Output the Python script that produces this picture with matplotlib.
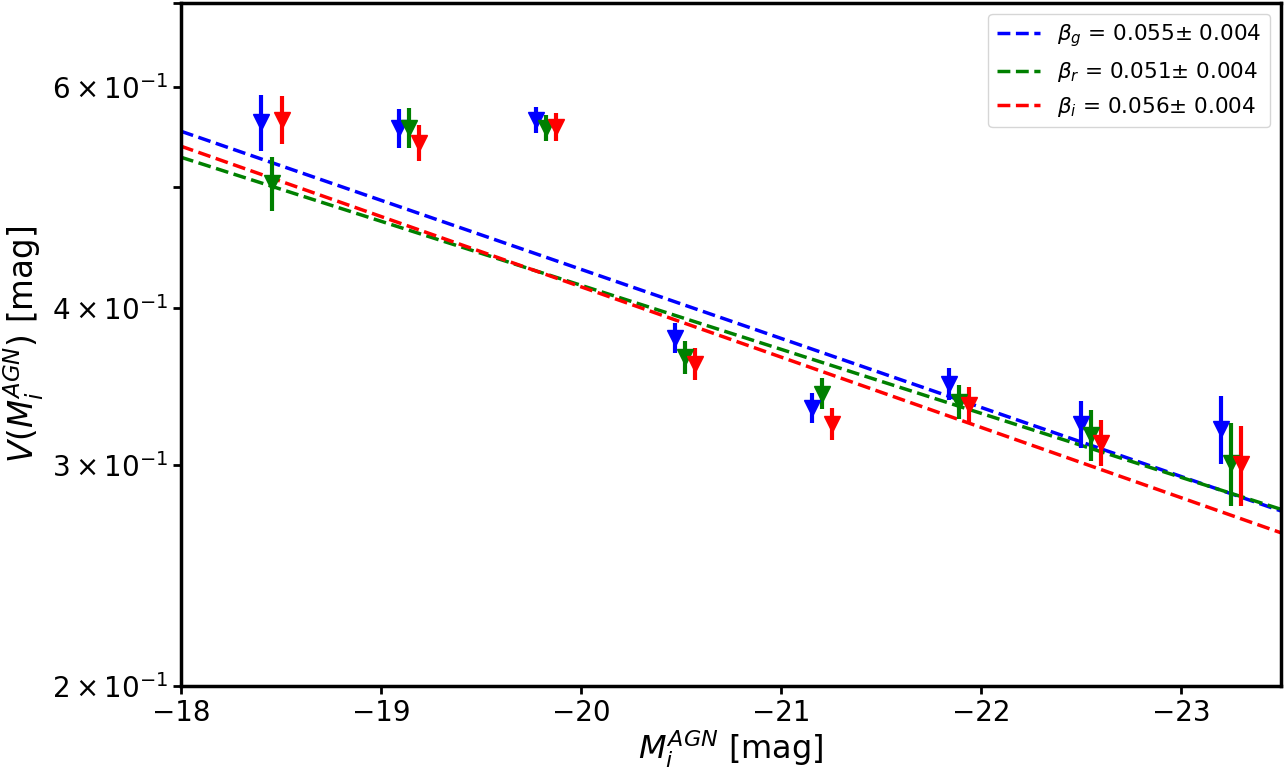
import numpy as np
import matplotlib.pyplot as plt

# magnitude bins (per band, small offsets so points don't overlap)
mag_g = [-18.40, -19.09, -19.775, -20.47, -21.153, -21.838, -22.50, -23.20]
mag_r = [-18.455, -19.14, -19.825, -20.52, -21.203, -21.888, -22.55, -23.25]
mag_i = [-18.505, -19.19, -19.875, -20.57, -21.253, -21.938, -22.60, -23.30]

# variability amplitude and errors
V_g = [0.5626, 0.5563, 0.565, 0.3788, 0.333, 0.348, 0.3236, 0.3205]
e_g = [0.0288, 0.020, 0.013, 0.0106, 0.0092, 0.0101, 0.014, 0.020]
V_r = [0.503, 0.557, 0.557, 0.3656, 0.342, 0.3368, 0.317, 0.3013]
e_r = [0.025, 0.020, 0.0135, 0.0112, 0.0096, 0.0106, 0.015, 0.023]
V_i = [0.5652, 0.542, 0.558, 0.361, 0.3234, 0.335, 0.3126, 0.3003]
e_i = [0.025, 0.018, 0.014, 0.0105, 0.0094, 0.011, 0.0133, 0.022]

# fit: log10 V = beta * M + c
beta = [0.055, 0.051, 0.056]
beta_err = [0.004, 0.004, 0.004]
intercept = [0.733, 0.6403, 0.7391]
bands = ['g', 'r', 'i']
colors = ['blue', 'green', 'red']

fig = plt.figure(figsize=(12.87, 7.74), dpi=100)
ax = fig.add_axes([0.1406, 0.1137, 0.8547, 0.8823])

xx = np.linspace(-18, -23.5, 50)
for b, be, c, band, col in zip(beta, beta_err, intercept, bands, colors):
    ax.plot(xx, 10**(b*xx + c), '--', color=col, lw=2.5,
            label=r'$\beta_%s$ = %.3f$\pm$ %.3f' % (band, b, be))

for m, v, e, col in zip([mag_g, mag_r, mag_i], [V_g, V_r, V_i], [e_g, e_r, e_i], colors):
    ax.errorbar(m, v, yerr=e, fmt='v', color=col, ms=12, elinewidth=3, capsize=0)

ax.set_yscale('log')
ax.set_xlim(-18, -23.5)
ax.set_ylim(0.2, 0.7)
ax.set_xlabel(r'$M_i^{AGN}$ [mag]', fontsize=23, labelpad=1)
ax.set_ylabel(r'$V(M_i^{AGN})$ [mag]', fontsize=23.5)
ax.tick_params(which='both', labelsize=20, width=2, length=6)
for s in ax.spines.values():
    s.set_linewidth(2.5)
ax.legend(loc='upper right', fontsize=15.5)

plt.savefig('out.png', dpi=100)
